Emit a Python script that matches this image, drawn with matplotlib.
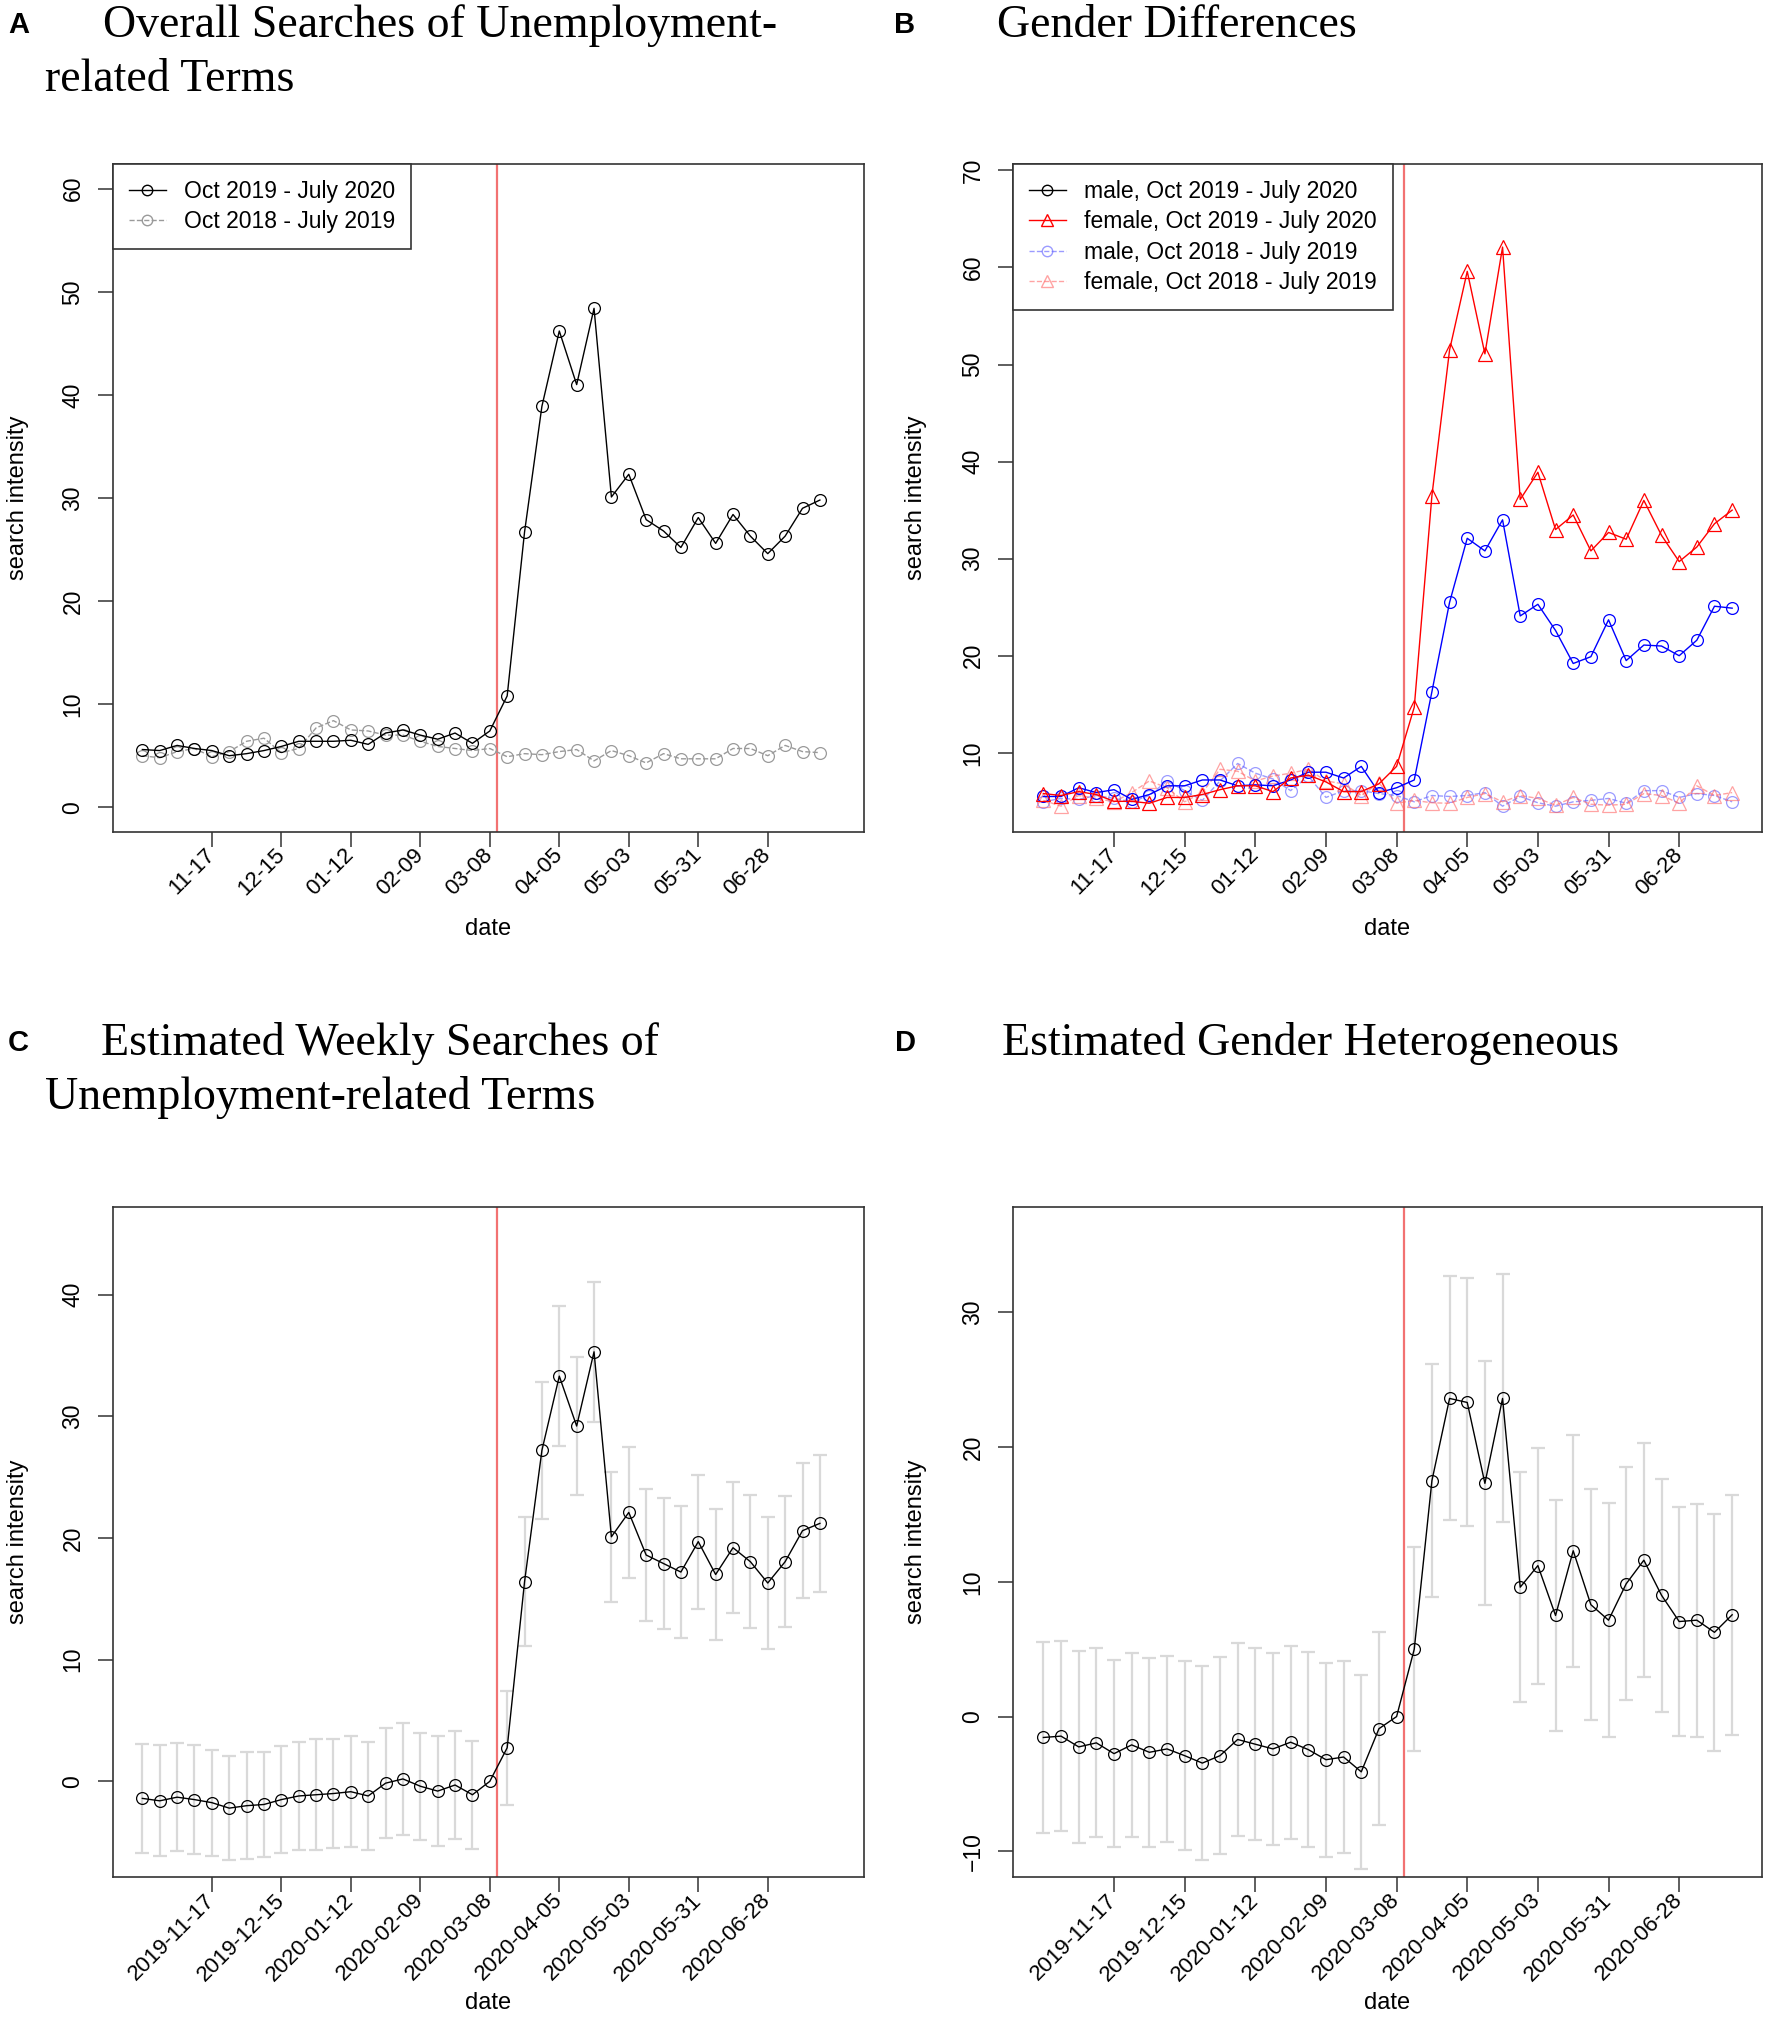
import numpy as np
import pandas as pd
import matplotlib
matplotlib.use('Agg')
import matplotlib.pyplot as plt
from matplotlib.lines import Line2D

plt.rcParams['font.family'] = ['Liberation Sans', 'DejaVu Sans']

# weekly dates (week starting)
weeks = pd.date_range('2019-10-20', periods=40, freq='7D')
tick_idx = list(range(4, 37, 4))
short_labels = [weeks[i].strftime('%m-%d') for i in tick_idx]
long_labels = [weeks[i].strftime('%Y-%m-%d') for i in tick_idx]
event_pos = 20 + 3 / 7  # 2020-03-11

# Panel A: overall searches
overall_2020 = [5.6, 5.5, 6.0, 5.7, 5.5, 5.0, 5.2, 5.5, 5.9, 6.4,
                6.4, 6.4, 6.5, 6.1, 7.2, 7.5, 7.0, 6.6, 7.2, 6.2,
                7.4, 10.8, 26.7, 38.9, 46.2, 41.0, 48.4, 30.1, 32.3, 27.9,
                26.8, 25.2, 28.1, 25.6, 28.4, 26.3, 24.6, 26.3, 29.0, 29.8]
overall_2019 = [5.0, 4.8, 5.4, 5.7, 4.9, 5.4, 6.4, 6.7, 5.3, 5.7,
                7.7, 8.4, 7.5, 7.4, 7.0, 7.0, 6.4, 5.9, 5.7, 5.5,
                5.7, 4.9, 5.2, 5.1, 5.4, 5.6, 4.5, 5.5, 5.0, 4.3,
                5.2, 4.7, 4.7, 4.7, 5.7, 5.7, 5.0, 6.0, 5.4, 5.3]

# Panel B: gender differences
male_2020 = [5.5, 5.5, 6.4, 5.9, 6.2, 5.2, 5.7, 6.6, 6.6, 7.2,
             7.2, 6.6, 6.7, 6.6, 7.2, 8.0, 8.0, 7.4, 8.6, 5.9,
             6.4, 7.2, 16.3, 25.5, 32.1, 30.8, 34.0, 24.1, 25.3, 22.6,
             19.2, 19.9, 23.7, 19.5, 21.1, 21.0, 20.0, 21.6, 25.1, 24.9]
female_2020 = [5.8, 5.6, 6.0, 5.7, 5.0, 5.0, 4.8, 5.4, 5.4, 5.7,
               6.2, 6.6, 6.6, 6.0, 7.4, 7.7, 7.0, 6.0, 6.0, 6.8,
               8.6, 14.7, 36.5, 51.5, 59.6, 51.1, 62.1, 36.1, 38.9, 33.0,
               34.5, 30.8, 32.7, 32.0, 36.0, 32.4, 29.7, 31.2, 33.6, 35.0]
male_2019 = [4.95, 5.3, 5.2, 5.6, 5.3, 4.95, 5.6, 7.1, 6.1, 5.1,
             7.1, 8.9, 7.9, 7.3, 6.1, 7.6, 5.4, 6.1, 6.1, 5.8,
             5.6, 4.95, 5.6, 5.5, 5.6, 5.9, 4.5, 5.5, 4.85, 4.5,
             4.95, 5.1, 5.3, 4.8, 6.1, 6.1, 5.4, 5.8, 5.6, 4.95]
female_2019 = [5.1, 4.5, 5.6, 5.3, 4.95, 5.9, 7.1, 6.4, 4.95, 5.9,
               8.3, 8.1, 7.1, 7.6, 7.9, 8.3, 7.1, 6.8, 5.6, 6.9,
               4.8, 5.1, 4.85, 4.8, 5.4, 5.8, 4.95, 5.6, 5.3, 4.6,
               5.4, 4.7, 4.6, 4.7, 5.8, 5.6, 4.8, 6.6, 5.6, 5.9]

# Panel C: estimated weekly searches (estimate, half width of interval)
est_total = [-1.4, -1.6, -1.3, -1.5, -1.75, -2.2, -2.0, -1.9, -1.5, -1.2,
             -1.1, -1.0, -0.85, -1.2, -0.15, 0.2, -0.4, -0.8, -0.3, -1.1,
             0.0, 2.76, 16.4, 27.2, 33.3, 29.2, 35.3, 20.1, 22.1, 18.6,
             17.9, 17.2, 19.7, 17.0, 19.2, 18.05, 16.3, 18.05, 20.6, 21.2]
ci_total = [4.45, 4.55, 4.45, 4.45, 4.35, 4.3, 4.4, 4.3, 4.4, 4.45,
            4.55, 4.5, 4.55, 4.45, 4.5, 4.6, 4.4, 4.5, 4.45, 4.45,
            np.nan, 4.7, 5.3, 5.6, 5.75, 5.65, 5.75, 5.35, 5.4, 5.4,
            5.35, 5.4, 5.5, 5.4, 5.4, 5.45, 5.4, 5.4, 5.55, 5.6]

# Panel D: estimated gender heterogeneity
est_gender = [-1.55, -1.45, -2.25, -1.95, -2.75, -2.1, -2.65, -2.4, -2.9, -3.45,
              -2.9, -1.7, -2.05, -2.4, -1.9, -2.45, -3.2, -3.0, -4.1, -0.9,
              0.0, 5.0, 17.5, 23.6, 23.3, 17.3, 23.6, 9.6, 11.2, 7.5,
              12.3, 8.3, 7.15, 9.85, 11.6, 9.0, 7.05, 7.15, 6.25, 7.55]
ci_gender = [7.1, 7.05, 7.1, 7.0, 6.95, 6.85, 7.0, 6.9, 7.0, 7.2,
             7.3, 7.15, 7.1, 7.1, 7.15, 7.25, 7.2, 7.15, 7.2, 7.15,
             np.nan, 7.55, 8.65, 9.05, 9.2, 9.05, 9.2, 8.55, 8.75, 8.6,
             8.6, 8.55, 8.7, 8.65, 8.7, 8.65, 8.5, 8.65, 8.8, 8.9]

W, H = 1772, 2018
fig = plt.figure(figsize=(W / 100, H / 100), dpi=100)


def make_axes(l, t, r, b):
    return fig.add_axes([l / W, 1 - b / H, (r - l) / W, (b - t) / H])


x = np.arange(len(weeks))
tick_fs = 16.5
edge = '#333333'


def style(ax, xlim, ylim, yticks, labels):
    ax.set_xlim(*xlim)
    ax.set_ylim(*ylim)
    ax.set_yticks(yticks)
    ax.set_xticks(tick_idx)
    ax.set_xticklabels(labels, rotation=45, ha='right', va='center',
                       rotation_mode='anchor', fontsize=16)
    ax.tick_params(axis='y', labelrotation=90, length=10.5, width=1.1,
                   pad=10, labelsize=tick_fs, color=edge)
    ax.tick_params(axis='x', length=10.5, width=1.1, pad=4, color=edge)
    for lab in ax.get_yticklabels():
        lab.set_va('center')
    for s in ax.spines.values():
        s.set_color(edge)
        s.set_linewidth(1.2)
    ax.axvline(event_pos, color='#F27272', lw=1.6, zorder=1)


lw = 1.0
ms = 8.5

leg_kw = dict(loc='upper left', borderaxespad=0, fancybox=False,
              edgecolor=edge, framealpha=1, fontsize=16.5,
              handlelength=1.6, handletextpad=0.8, labelspacing=0.32,
              borderpad=0.7)

# ---- A ----
axA = make_axes(113, 164, 864, 832)
axA.plot(x, overall_2019, color='#9a9a9a', ls='--', lw=lw, marker='o',
         ms=ms, mfc='none', mec='#9a9a9a', mew=0.9, zorder=2)
axA.plot(x, overall_2020, color='black', lw=lw, marker='o',
         ms=ms, mfc='none', mec='black', mew=0.9, zorder=3)
style(axA, (-1.69, 41.54), (-2.4, 62.4), range(0, 61, 10), short_labels)
hA = [Line2D([], [], color='black', lw=lw, marker='o', ms=ms - 1, mfc='none'),
      Line2D([], [], color='#9a9a9a', ls='--', lw=lw, marker='o', ms=ms - 1, mfc='none')]
legA = axA.legend(hA, ['Oct 2019 - July 2020', 'Oct 2018 - July 2019'], **leg_kw)
legA.get_frame().set_linewidth(1.2)

# ---- B ----
axB = make_axes(1013, 164, 1762, 832)
faint_b = (0.4, 0.4, 1.0, 0.65)
faint_r = (1.0, 0.4, 0.4, 0.6)
axB.plot(x, male_2019, color=faint_b, ls='--', lw=lw, marker='o', ms=ms,
         mfc='none', mec=faint_b, mew=0.9, zorder=2)
axB.plot(x, female_2019, color=faint_r, ls='--', lw=lw, marker='^', ms=ms + 1,
         mfc='none', mec=faint_r, mew=0.9, zorder=2)
axB.plot(x, male_2020, color='#0000FF', lw=lw, marker='o', ms=ms,
         mfc='none', mec='#0000FF', mew=0.9, zorder=3)
axB.plot(x, female_2020, color='#FF0000', lw=lw, marker='^', ms=ms + 1,
         mfc='none', mec='#FF0000', mew=0.9, zorder=3)
style(axB, (-1.72, 40.69), (1.84, 70.66), range(10, 71, 10), short_labels)
hB = [Line2D([], [], color='black', lw=lw, marker='o', ms=ms - 1, mfc='none'),
      Line2D([], [], color='#FF0000', lw=lw, marker='^', ms=ms, mfc='none'),
      Line2D([], [], color=faint_b, ls='--', lw=lw, marker='o', ms=ms - 1, mfc='none'),
      Line2D([], [], color=faint_r, ls='--', lw=lw, marker='^', ms=ms, mfc='none')]
legB = axB.legend(hB, ['male, Oct 2019 - July 2020', 'female, Oct 2019 - July 2020',
                       'male, Oct 2018 - July 2019', 'female, Oct 2018 - July 2019'],
                  **leg_kw)
legB.get_frame().set_linewidth(1.2)


def est_panel(ax, est, ci):
    ax.errorbar(x, est, yerr=ci, fmt='none', ecolor='#d9d9d9', elinewidth=1.6,
                capsize=4.7, capthick=1.6, zorder=1)
    ax.plot(x, est, color='black', lw=lw, marker='o', ms=ms, mfc='none',
            mec='black', mew=0.9, zorder=3)


# ---- C ----
axC = make_axes(113, 1207, 864, 1877)
est_panel(axC, est_total, ci_total)
style(axC, (-1.69, 41.54), (-7.86, 47.2), range(0, 41, 10), long_labels)

# ---- D ----
axD = make_axes(1013, 1207, 1762, 1877)
est_panel(axD, est_gender, ci_gender)
style(axD, (-1.72, 40.69), (-11.9, 37.8), range(-10, 31, 10), long_labels)

# axis labels
lab_fs = 17
for cx, cy in [(488, 929), (1387, 929), (488, 2003), (1387, 2003)]:
    fig.text(cx / W, 1 - cy / H, 'date', ha='center', va='center', fontsize=lab_fs)
for cx, cy in [(18, 498), (916, 498), (18, 1542), (916, 1542)]:
    fig.text(cx / W, 1 - cy / H, 'search intensity', ha='center', va='center',
             rotation=90, fontsize=lab_fs)

# panel letters and titles
serif = ['Liberation Serif', 'DejaVu Serif']
title_fs = 33
for letter, lx, ly in [('A', 8, 33), ('B', 894, 33), ('C', 8, 1051), ('D', 895, 1051)]:
    fig.text(lx / W, 1 - ly / H, letter, fontsize=21, fontweight='bold',
             ha='left', va='baseline')
titles = [('Overall Searches of Unemployment-', 103, 37),
          ('related Terms', 45, 91),
          ('Gender Differences', 997, 37),
          ('Estimated Weekly Searches of', 101, 1055),
          ('Unemployment-related Terms', 45, 1109),
          ('Estimated Gender Heterogeneous', 1002, 1055)]
for txt, tx, ty in titles:
    fig.text(tx / W, 1 - ty / H, txt, fontsize=title_fs, family=serif,
             ha='left', va='baseline')

fig.savefig('out.png', dpi=100)
